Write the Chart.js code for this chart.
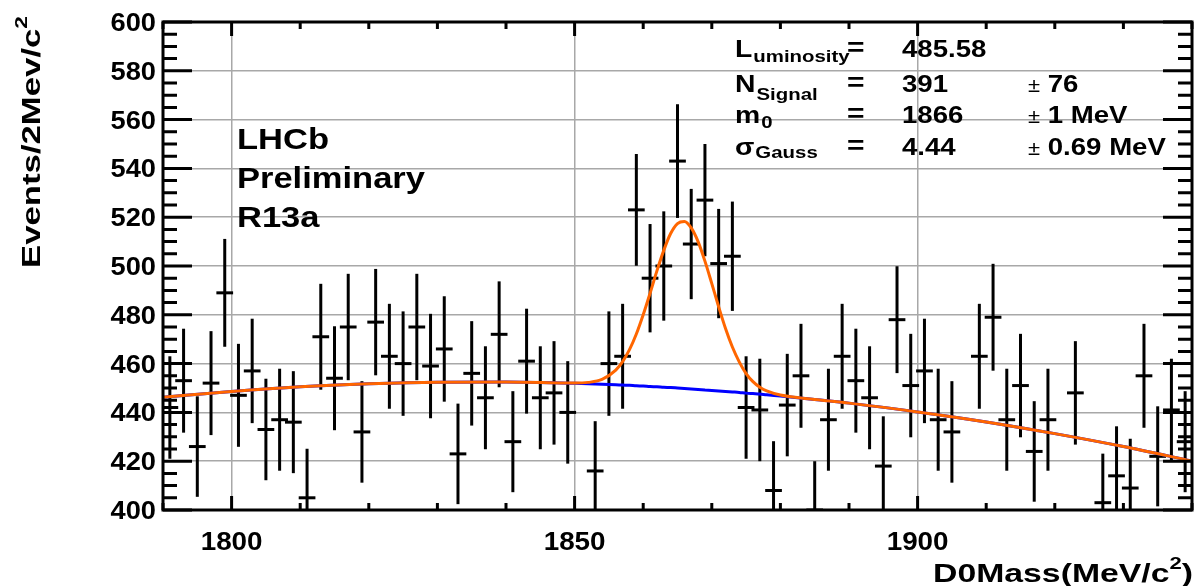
<!DOCTYPE html>
<html>
<head>
<meta charset="utf-8">
<title>D0 mass fit</title>
<script src="https://cdn.jsdelivr.net/npm/chart.js@4.4.0/dist/chart.umd.min.js"></script>
<style>
    body { margin: 0; background: #ffffff; }
    #wrap { width: 1196px; height: 586px; }
</style>
</head>
<body>
<div id="wrap"><canvas id="massChart" width="1196" height="586"></canvas></div>
<script>
// Histogram: bin centres (2 MeV bins) and event counts
const binCenters = [1791, 1793, 1795, 1797, 1799, 1801, 1803, 1805, 1807, 1809,
    1811, 1813, 1815, 1817, 1819, 1821, 1823, 1825, 1827, 1829,
    1831, 1833, 1835, 1837, 1839, 1841, 1843, 1845, 1847, 1849,
    1851, 1853, 1855, 1857, 1859, 1861, 1863, 1865, 1867, 1869,
    1871, 1873, 1875, 1877, 1879, 1881, 1883, 1885, 1887, 1889,
    1891, 1893, 1895, 1897, 1899, 1901, 1903, 1905, 1907, 1909,
    1911, 1913, 1915, 1917, 1919, 1921, 1923, 1925, 1927, 1929,
    1931, 1933, 1935, 1937, 1939];
// null = bin below the frame, not drawn
const events = [442, 453, 426, 452, 489, 447, 457, 433, 437, 436,
    405, 471, 454, 475, 432, 477, 463, 460, 475, 459,
    466, 423, 456, 446, 472, 428, 461, 446, 448, 440,
    null, 416, 460, 463, 523, 495, 500, 543, 509, 527,
    501, 504, 442, 441, 408, 443, 455, 400, 437, 463,
    453, 446, 418, 478, 451, 457, 437, 432, null, 463,
    479, 437, 451, 424, 437, null, 448, null, 403, 414,
    409, 455, 422, 441, 428];
const eventErrors = [21.0, 21.3, 20.6, 21.3, 22.1, 21.1, 21.4, 20.8, 20.9, 20.9,
    20.1, 21.7, 21.3, 21.8, 20.8, 21.8, 21.5, 21.4, 21.8, 21.4,
    21.6, 20.6, 21.4, 21.1, 21.7, 20.7, 21.5, 21.1, 21.2, 21.0,
    null, 20.4, 21.4, 21.5, 22.9, 22.2, 22.4, 23.3, 22.6, 23.0,
    22.4, 22.4, 21.0, 21.0, 20.2, 21.0, 21.3, 20.0, 20.9, 21.5,
    21.3, 21.1, 20.4, 21.9, 21.2, 21.4, 20.9, 20.8, null, 21.5,
    21.9, 20.9, 21.2, 20.6, 20.9, null, 21.2, null, 20.1, 20.3,
    20.2, 21.3, 20.5, 21.0, 20.7];

// Fit curves sampled from the plot
const fitMass = [1790, 1800, 1810, 1820, 1830, 1840, 1848, 1850, 1852, 1854,
    1856, 1857, 1858, 1859, 1860, 1861, 1862, 1863, 1864, 1865,
    1866, 1867, 1868, 1869, 1870, 1871, 1872, 1873, 1874, 1875,
    1876, 1877, 1878, 1880, 1885, 1890, 1900, 1910, 1920, 1930, 1940];
const fitTotal = [446.2, 448.6, 450.5, 451.7, 452.4, 452.5, 452.1, 452.0, 452.3, 453.5,
    457.3, 460.8, 465.7, 472.1, 480.0, 488.8, 498.0, 506.4, 513.3, 517.4,
    518.2, 515.6, 510.0, 502.0, 492.8, 483.3, 474.4, 466.8, 460.7, 455.9,
    452.6, 450.3, 448.8, 447.1, 445.3, 443.8, 440.2, 436.1, 431.3, 426.0, 420.1];
const fitBackground = [446.2, 448.6, 450.5, 451.7, 452.4, 452.5, 452.1, 451.9, 451.7, 451.5,
    451.3, 451.2, 451.1, 450.9, 450.8, 450.6, 450.5, 450.3, 450.2, 450.0,
    449.8, 449.6, 449.4, 449.2, 449.0, 448.8, 448.6, 448.4, 448.2, 447.9,
    447.7, 447.5, 447.2, 446.7, 445.3, 443.8, 440.2, 436.1, 431.3, 426.0, 420.1];

// Axis labels
const xTickLabels = [1800, 1850, 1900];
const yTickLabels = [400, 420, 440, 460, 480, 500, 520, 540, 560, 580, 600];

// Fit summary box
const statRows = [
    { name: 'L', sub: 'uminosity', value: '485.58', err: '' },
    { name: 'N', sub: 'Signal', value: '391', err: '76' },
    { name: 'm', sub: '0', value: '1866', err: '1 MeV' },
    { name: '\u03c3', sub: 'Gauss', value: '4.44', err: '0.69 MeV' }
];
const labelLines = ['LHCb', 'Preliminary', 'R13a'];

const FONT = '"Liberation Sans", Arial, Helvetica, sans-serif';

// draw text with a horizontal stretch, returns drawn width
function drawText(ctx, str, x, y, size, sx, align, weight) {
    ctx.save();
    ctx.font = (weight || 'bold') + ' ' + size + 'px ' + FONT;
    const w = ctx.measureText(str).width * sx;
    ctx.translate(x, y);
    ctx.scale(sx, 1);
    ctx.textAlign = align || 'left';
    ctx.textBaseline = 'alphabetic';
    ctx.fillStyle = '#000000';
    ctx.fillText(str, 0, 0);
    ctx.restore();
    return w;
}

function textWidth(ctx, str, size, weight) {
    ctx.save();
    ctx.font = (weight || 'bold') + ' ' + size + 'px ' + FONT;
    const w = ctx.measureText(str).width;
    ctx.restore();
    return w;
}

const rootStyle = {
    id: 'rootStyle',
    beforeDatasetsDraw(chart) {
        const ctx = chart.ctx;
        const xs = chart.scales.x;
        const ys = chart.scales.y;
        const area = chart.chartArea;
        ctx.save();
        ctx.beginPath();
        ctx.rect(area.left, area.top, area.right - area.left, area.bottom - area.top);
        ctx.clip();
        ctx.strokeStyle = '#000000';
        ctx.lineWidth = 3;
        binCenters.forEach((m, i) => {
            const v = events[i];
            if (v === null) return;
            const e = eventErrors[i];
            const px = xs.getPixelForValue(m);
            ctx.lineCap = 'butt';
            ctx.beginPath();
            ctx.moveTo(px, ys.getPixelForValue(v + e));
            ctx.lineTo(px, ys.getPixelForValue(v - e));
            ctx.stroke();
            ctx.lineCap = 'square';
            ctx.beginPath();
            ctx.moveTo(xs.getPixelForValue(m - 1), ys.getPixelForValue(v));
            ctx.lineTo(xs.getPixelForValue(m + 1), ys.getPixelForValue(v));
            ctx.stroke();
        });
        ctx.restore();
    },
    afterDatasetsDraw(chart) {
        const ctx = chart.ctx;
        const xs = chart.scales.x;
        const ys = chart.scales.y;
        const a = chart.chartArea;
        ctx.save();
        ctx.strokeStyle = '#000000';
        ctx.lineCap = 'butt';
        // tick marks on all four sides
        ctx.lineWidth = 3;
        for (let v = 400; v <= 600; v += 5) {
            const py = ys.getPixelForValue(v);
            const len = v % 20 === 0 ? 29 : 14;
            ctx.beginPath();
            ctx.moveTo(a.left, py); ctx.lineTo(a.left + len, py);
            ctx.moveTo(a.right, py); ctx.lineTo(a.right - len, py);
            ctx.stroke();
        }
        for (let m = 1790; m <= 1940; m += 10) {
            const px = xs.getPixelForValue(m);
            const len = m % 50 === 0 ? 14 : 7;
            ctx.beginPath();
            ctx.moveTo(px, a.bottom); ctx.lineTo(px, a.bottom - len);
            ctx.moveTo(px, a.top); ctx.lineTo(px, a.top + len);
            ctx.stroke();
        }
        // frame
        ctx.lineWidth = 3;
        ctx.strokeRect(a.left, a.top, a.right - a.left, a.bottom - a.top);
        ctx.restore();
    },
    afterDraw(chart) {
        const ctx = chart.ctx;
        const xs = chart.scales.x;
        const ys = chart.scales.y;
        const a = chart.chartArea;

        // tick labels
        yTickLabels.forEach(v => {
            drawText(ctx, String(v), 156, ys.getPixelForValue(v) + 9, 25, 1.09, 'right');
        });
        xTickLabels.forEach(v => {
            drawText(ctx, String(v), xs.getPixelForValue(v), 550, 26, 1.07, 'center');
        });

        // x axis title, right aligned to the frame
        const xMain = 'D0Mass(MeV/c';
        const xw = textWidth(ctx, xMain, 26) + textWidth(ctx, '2', 17) + textWidth(ctx, ')', 26);
        const xsx = 260 / xw;
        let tx = a.right + 1 - 260;
        tx += drawText(ctx, xMain, tx, 582, 26, xsx);
        tx += drawText(ctx, '2', tx, 569, 17, xsx);
        drawText(ctx, ')', tx, 582, 26, xsx);

        // y axis title, rotated, ending near the top
        ctx.save();
        ctx.translate(40, 268);
        ctx.rotate(-Math.PI / 2);
        const yMain = 'Events/2Mev/c';
        const yw = textWidth(ctx, yMain, 26) + textWidth(ctx, '2', 17);
        const ysx = 252 / yw;
        let ty = 0;
        ty += drawText(ctx, yMain, ty, 0, 26, ysx);
        drawText(ctx, '2', ty, -13, 17, ysx);
        ctx.restore();

        // experiment label
        labelLines.forEach((t, i) => {
            drawText(ctx, t, 237, 149 + i * 39, 30, 1.15);
        });

        // fit results
        const rowBase = [57, 92, 123, 155];
        const subDrop = [5, 8, 5, 3];
        statRows.forEach((r, i) => {
            const y = rowBase[i];
            const w = drawText(ctx, r.name, 735, y, 24, 1.18);
            drawText(ctx, r.sub, 735 + w + 1, y + subDrop[i], 17, 1.2);
            drawText(ctx, '=', 847, y - 1, 25, 1.2);
            drawText(ctx, r.value, 902, y, 23, 1.2);
            if (r.err) {
                const pw = drawText(ctx, '\u00b1', 1028, y, 20, 1.1, 'left', 'normal');
                drawText(ctx, ' ' + r.err, 1028 + pw, y, 23, 1.2);
            }
        });
    }
};

new Chart(document.getElementById('massChart').getContext('2d'), {
    type: 'line',
    data: {
        datasets: [{
            label: 'Total fit',
            data: fitMass.map((m, i) => ({ x: m, y: fitTotal[i] })),
            borderColor: '#ff6600',
            borderWidth: 3,
            pointRadius: 0,
            cubicInterpolationMode: 'monotone',
            order: 1
        }, {
            label: 'Background',
            data: fitMass.map((m, i) => ({ x: m, y: fitBackground[i] })),
            borderColor: '#0000ff',
            borderWidth: 3,
            pointRadius: 0,
            cubicInterpolationMode: 'monotone',
            order: 2
        }, {
            label: 'Data',
            data: binCenters.map((m, i) => ({ x: m, y: events[i] })),
            showLine: false,
            pointRadius: 0,
            order: 3
        }]
    },
    options: {
        responsive: false,
        animation: false,
        devicePixelRatio: 1,
        layout: {
            padding: { left: 163, right: 4, top: 22, bottom: 76 }
        },
        plugins: {
            legend: { display: false },
            tooltip: { enabled: false }
        },
        scales: {
            x: {
                type: 'linear',
                min: 1790,
                max: 1940,
                afterBuildTicks: scale => {
                    scale.ticks = xTickLabels.map(v => ({ value: v }));
                },
                ticks: { display: false },
                grid: { color: '#a8a8a8', lineWidth: 1.5, drawTicks: false },
                border: { display: false }
            },
            y: {
                type: 'linear',
                min: 400,
                max: 600,
                afterBuildTicks: scale => {
                    scale.ticks = yTickLabels.map(v => ({ value: v }));
                },
                ticks: { display: false },
                grid: { color: '#a8a8a8', lineWidth: 1.5, drawTicks: false },
                border: { display: false }
            }
        }
    },
    plugins: [rootStyle]
});
</script>
</body>
</html>
